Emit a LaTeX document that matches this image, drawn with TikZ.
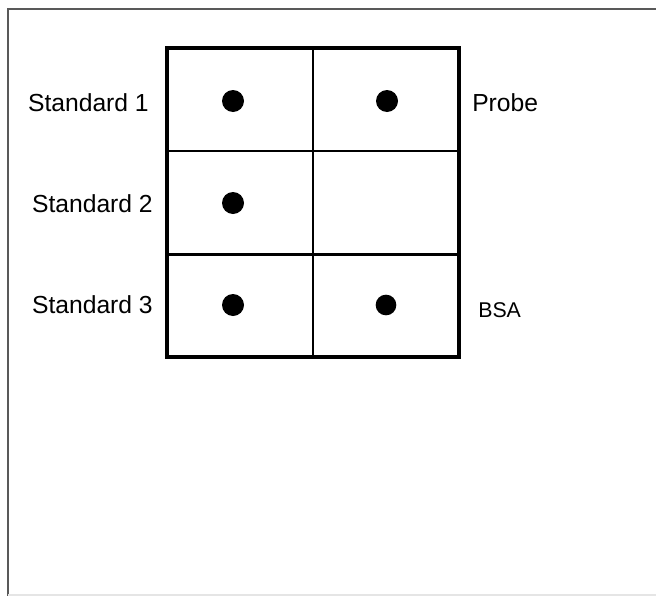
\documentclass[tikz,border=0pt]{standalone}
\usepackage{fontspec}
\setmainfont{Liberation Sans}
\begin{document}
\begin{tikzpicture}[x=0.75pt,y=-0.75pt,
  lbl/.style={inner sep=0pt,font=\fontsize{18.5}{20}\selectfont},
  smalllbl/.style={inner sep=0pt,font=\fontsize{16}{18}\selectfont},
  spot/.style={circle,fill=black,inner sep=0pt,minimum size=16.5pt},
  cell/.style={rectangle,inner sep=0pt,minimum width=109.5pt,minimum height=77pt}]
\useasboundingbox (0,0) rectangle (656,596);
\fill[white] (0,0) rectangle (656,596);
% page frame
\draw[line width=1.5pt,black!65] (656,9) -- (8,9) -- (8,596);
\draw[line width=0.8pt,black!10] (8,595) -- (656,595);
% plate cells
\node[cell] (c11) at (240,99.5) {};
\node[cell] (c12) at (385.5,99.5) {};
\node[cell] (c21) at (240,203) {};
\node[cell] (c22) at (385.5,203) {};
\node[cell] (c31) at (240,305) {};
\node[cell] (c32) at (385.5,305) {};
% grid lines
\draw[line width=2pt] (c11.south west) -- (c12.south east);
\draw[line width=2pt] (c21.south west) -- (c22.south east);
\draw[line width=1.4pt] (c11.north east) -- (c31.south east);
\draw[line width=3pt] (c11.north west) rectangle (c32.south east);
% spots
\node[spot] (s11) at (233,101) {};
\node[spot] (s12) at (387,101) {};
\node[spot] (s21) at (233,203) {};
\node[spot] (s31) at (233,305) {};
\node[spot,minimum size=15.5pt] (s32) at (386,305) {};
% labels
\node[lbl,anchor=base east] (std1) at (149,111) {Standard 1};
\node[lbl,anchor=base east] (std2) at (153,212) {Standard 2};
\node[lbl,anchor=base east] (std3) at (153,313) {Standard 3};
\node[lbl,anchor=base west] (probe) at (472,111) {Probe};
\node[smalllbl,anchor=base west] (bsa) at (478,317) {BSA};
\end{tikzpicture}
\end{document}
